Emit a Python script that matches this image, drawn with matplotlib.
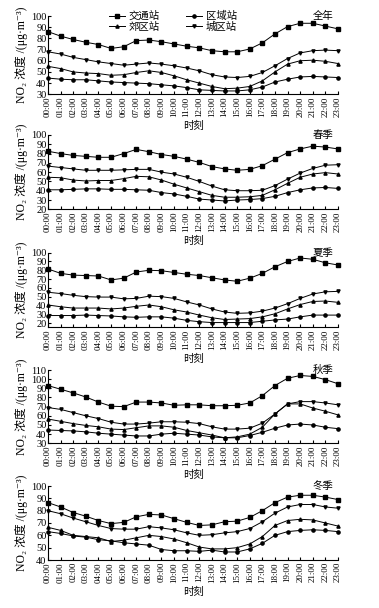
import matplotlib
matplotlib.use("Agg")
import matplotlib.pyplot as plt

plt.rcParams["font.family"] = ["Liberation Serif", "Noto Sans CJK SC", "DejaVu Sans"]

hours = [f"{h:02d}:00" for h in range(24)]
station_names = ["交通站", "区域站", "郊区站", "城区站"]
season_names = ["全年", "春季", "夏季", "秋季", "冬季"]

# 全年
year_traffic = [86, 82, 79, 76.5, 74.5, 71, 72.5, 78, 78.5, 77, 75, 73, 71.5, 69, 68, 68, 70.5, 76, 84, 90.5, 93.5, 93.5, 91, 88.5]
year_regional = [44.5, 43.5, 43, 43, 42, 41, 40.5, 40, 39.5, 38.5, 37.5, 36, 34, 33.5, 33, 33, 34, 36.5, 41, 43.5, 45.5, 46, 45.5, 45]
year_suburb = [55, 53, 50, 49, 48.5, 47, 47.5, 49.5, 51, 49.5, 46.5, 43, 40, 37, 35, 35.5, 37, 42, 50, 57, 60, 60.5, 59.5, 57.5]
year_urban = [68, 66, 63, 61, 59, 57.5, 56, 57, 58, 57, 55.5, 53.5, 51, 47.5, 45.5, 45, 46, 49.5, 55.5, 62, 67, 69, 69.5, 69]

# 春季
spring_traffic = [82.5, 80, 78, 77, 76, 76, 80, 84.5, 82, 79, 77, 74, 70.5, 66, 63.5, 62, 63, 67, 74, 81, 85, 88, 87, 85]
spring_regional = [41, 41, 41.5, 42, 42, 41.5, 41.5, 41, 40.5, 38, 36.5, 34, 31, 30, 29, 30, 30.5, 31.5, 34, 38, 41, 43, 43.5, 42.5]
spring_suburb = [54.5, 54, 51.5, 50.5, 51, 51, 53, 55.5, 55, 51.5, 47, 43, 39, 35, 33, 33, 33.5, 35, 41, 48, 54.5, 58, 59.5, 58]
spring_urban = [66.5, 65, 63.5, 62, 62, 62, 62.5, 63, 63, 60, 58, 54.5, 50, 45, 41, 40, 40, 40.5, 45.5, 52.5, 59, 64, 67.5, 68]

# 夏季
summer_traffic = [81.5, 76.5, 74.5, 74, 73.5, 69, 71, 78, 80, 79.5, 77.5, 75.5, 74, 71.5, 69, 67.5, 71, 76.5, 84, 90, 94, 92.5, 88.5, 86]
summer_regional = [28.5, 28.5, 28.5, 29, 28.5, 28, 27, 26.5, 27, 27, 25.5, 23, 21.5, 20.5, 20.5, 20.5, 20.5, 22, 23.5, 24.5, 27, 29, 29, 29]
summer_suburb = [40.5, 38.5, 37, 37, 37, 36, 37, 39, 40.5, 38.5, 35, 32.5, 29, 26, 24, 24.5, 25, 27, 30.5, 36, 41, 44.5, 45, 43.5]
summer_urban = [55, 53.5, 51.5, 50, 49.5, 49.5, 47.5, 48, 50.5, 50, 48, 44, 40.5, 36, 32.5, 31, 31.5, 33.5, 37, 42, 48, 53, 55.5, 56]

# 秋季
autumn_traffic = [93, 89, 85, 80.5, 75, 70.5, 70, 75, 75, 74, 71.5, 72, 72, 71, 71, 71.5, 74, 82, 93, 101, 104, 103, 99.5, 95]
autumn_regional = [44.5, 44, 43.5, 42.5, 41, 40, 39, 38, 38, 40, 41, 40, 39, 37, 36, 36, 38.5, 42, 46.5, 50, 51, 50, 47.5, 46]
autumn_suburb = [56.5, 54, 51.5, 49.5, 48, 45.5, 45, 47, 49, 49, 47.5, 44, 41.5, 39, 36, 37, 40, 47.5, 62, 73, 73, 68.5, 65, 61]
autumn_urban = [69, 67, 63.5, 60, 57, 53, 51, 51, 52, 53.5, 53.5, 53, 51.5, 48, 45.5, 45.5, 46.5, 52, 62, 73, 75.5, 75.5, 74, 72]

# 冬季
winter_traffic = [86.5, 83, 78.5, 75.5, 72, 69.5, 70.5, 75, 77, 76.5, 73.5, 70.5, 68, 68.5, 71, 71.5, 74.5, 80, 86.5, 91, 92.5, 92.5, 91, 89]
winter_regional = [63, 61.5, 59.5, 58.5, 56.5, 55.5, 54, 53, 52, 48.5, 47.5, 47.5, 47, 48, 46.5, 46.5, 49, 53.5, 60, 63, 64, 64.5, 64, 63]
winter_suburb = [66.5, 64, 60, 59, 58, 55, 56, 58, 60, 59, 57, 54, 50.5, 49, 49, 50, 53, 59, 68, 72, 73, 72.5, 70, 67.5]
winter_urban = [80, 77.5, 74, 71, 68, 65.5, 65, 65, 67, 66, 64.5, 62, 60, 60.5, 62, 63, 65.5, 71, 78, 83, 85, 85, 83, 82]

seasons = [
    [year_traffic, year_regional, year_suburb, year_urban],
    [spring_traffic, spring_regional, spring_suburb, spring_urban],
    [summer_traffic, summer_regional, summer_suburb, summer_urban],
    [autumn_traffic, autumn_regional, autumn_suburb, autumn_urban],
    [winter_traffic, winter_regional, winter_suburb, winter_urban],
]
ylims = [(30, 100), (20, 100), (15, 100), (30, 110), (40, 100)]
markers = ["s", "o", "^", "v"]

# axes top / bottom in pixels of the 379x608 picture
panel_px = [(16, 94.3), (135, 209.3), (252.7, 327.4), (370, 443.3), (486, 560)]

W, H = 379, 608
fig = plt.figure(figsize=(W / 100, H / 100), dpi=100)

x = list(range(24))
for k, (series, ylim, (top, bot)) in enumerate(zip(seasons, ylims, panel_px)):
    ax = fig.add_axes([48 / W, 1 - bot / H, 290 / W, (bot - top) / H])
    for vals, m, name in zip(series, markers, station_names):
        ax.plot(x, vals, color="black", lw=0.7, marker=m, ms=2.3,
                label=name, clip_on=False)
    ax.set_xlim(0, 23)
    ax.set_ylim(*ylim)
    ax.set_yticks(range(ylim[0] + (10 - ylim[0] % 10) % 10, ylim[1] + 1, 10))
    ax.set_xticks(x)
    ax.set_xticklabels(hours, rotation=90, fontsize=6.5)
    ax.tick_params(axis="y", labelsize=7.5, direction="in", length=2.5, pad=1)
    ax.tick_params(axis="x", direction="in", length=2.5, pad=1.5)
    for s in ["top", "right"]:
        ax.spines[s].set_visible(False)
    for s in ["left", "bottom"]:
        ax.spines[s].set_linewidth(0.8)
    ax.set_xlabel("时刻", fontsize=7.5, labelpad=3)
    ax.set_ylabel("NO₂ 浓度 /(μg·m⁻³)", fontsize=8.5, labelpad=2)
    ax.text(0.985, 1.0, season_names[k], transform=ax.transAxes,
            ha="right", va="center", fontsize=7.5)
    if k == 0:
        h, l = ax.get_legend_handles_labels()
        order = [0, 2, 1, 3]
        ax.legend([h[i] for i in order], [l[i] for i in order],
                  loc="upper center", bbox_to_anchor=(0.43, 1.13), ncol=2,
                  frameon=False, fontsize=7.5, handlelength=1.6,
                  handletextpad=0.3, columnspacing=2.5, labelspacing=0.05,
                  borderpad=0)

fig.savefig("out.png", dpi=100)
